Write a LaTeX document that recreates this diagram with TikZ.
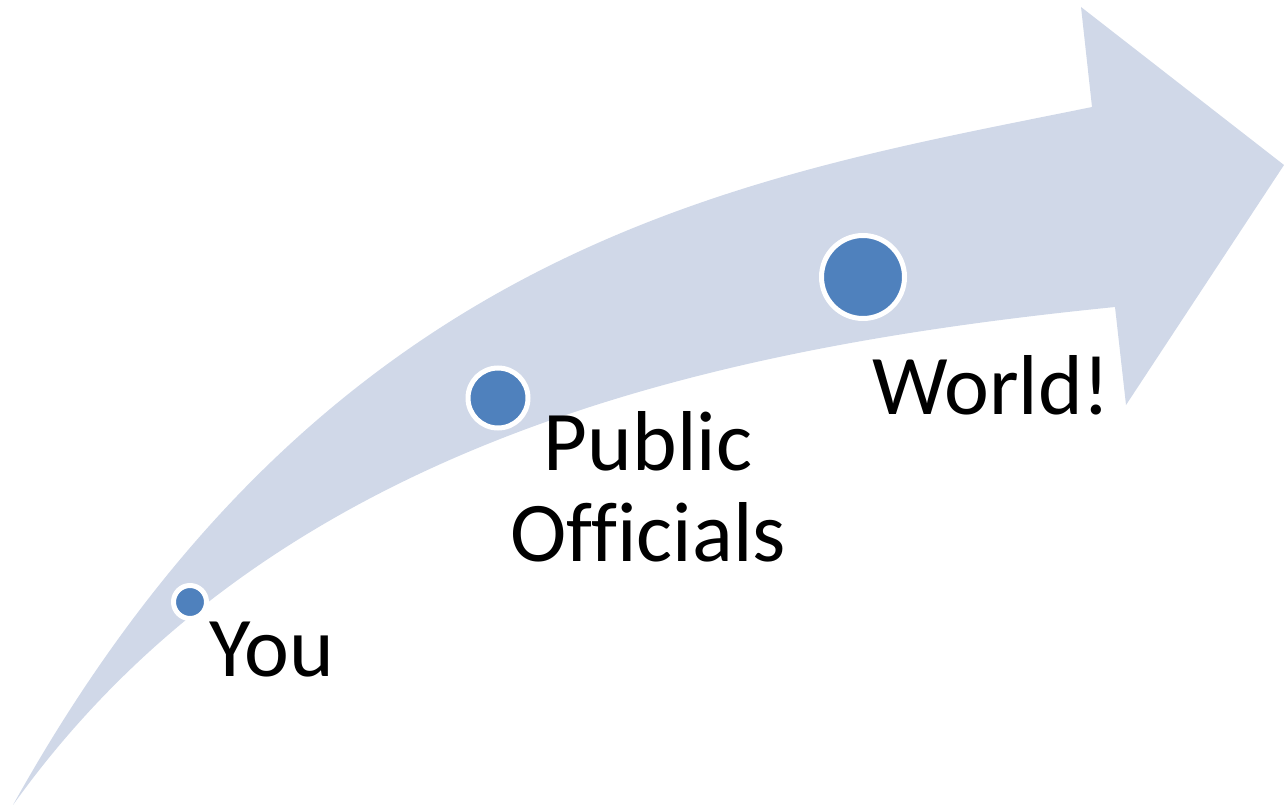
\documentclass[tikz,border=0pt]{standalone}
\usepackage{fontspec}
\setmainfont{Carlito}[Ligatures=NoCommon]
\definecolor{arrowfill}{RGB}{208,216,232}
\definecolor{dotblue}{RGB}{79,129,189}
\begin{document}
\begin{tikzpicture}[x=1pt,y=-1pt,
  dot/.style={circle, fill=dotblue, draw=white, line width=5pt, inner sep=0pt},
  lbl/.style={inner sep=0pt, font=\fontsize{85}{91}\selectfont, text=black}]
\useasboundingbox (0,0) rectangle (1284,805);
\fill[arrowfill] (13,805) .. controls (329,237) and (749,177) .. (1092,107)
  -- (1081,7) -- (1284,165) -- (1126,405) -- (1115,307)
  .. controls (717,347) and (274,440) .. cycle;
\node[dot, minimum size=33pt] (you) at (190,602) {};
\node[dot, minimum size=60pt] (pub) at (498,398) {};
\node[dot, minimum size=83pt] (world) at (863,277) {};
\node[lbl, anchor=base west] (youlbl) at (209,676) {You};
\node[lbl, align=center] (publbl) at (648,487) {Public\\Officials};
\node[lbl, anchor=base west] (worldlbl) at (872,414) {World!};
\end{tikzpicture}
\end{document}
